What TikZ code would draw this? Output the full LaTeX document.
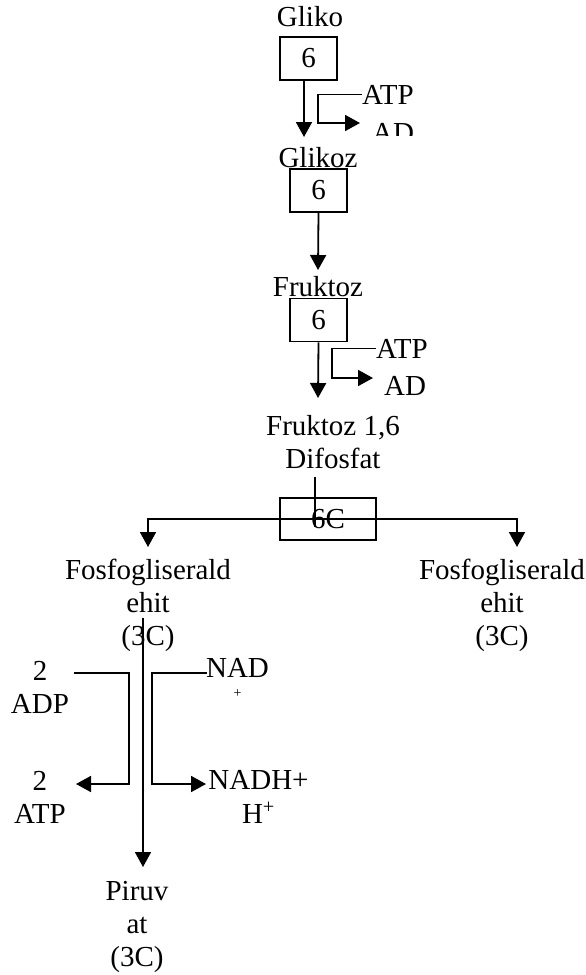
\documentclass[tikz,border=0pt]{standalone}
\usepackage{fontspec}
\setmainfont{Liberation Serif}
\usetikzlibrary{arrows.meta}
\tikzset{
        lbl/.style={inner sep=0pt, align=center, font=\fontsize{29}{33}\selectfont},
        box/.style={lbl, draw, line width=1.8pt, minimum width=57pt, minimum height=43pt},
        garis/.style={line width=1.8pt},
        panah/.style={garis, -{Triangle[length=15pt,width=16pt]}}
}
\begin{document}
\begin{tikzpicture}[x=1pt,y=-1pt]
        \useasboundingbox (0,0) rectangle (586,975);

        % glukosa -> glukosa 6-fosfat
        \node[lbl, anchor=base] (GLIKO) at (310,26) {Gliko};
        \node[box] (B1) at (308.5,58.5) {6};
        \coordinate (A1) at (304,137);
        \draw[panah] (B1.south -| A1) -- (A1);

        \node[lbl, anchor=base west] (ATP1) at (362,104) {ATP};
        \coordinate (K1) at (318,110);
        \coordinate (T1) at (360,123);
        \draw[panah] (ATP1.west) -| (K1) |- (T1);
        \begin{scope}
                \clip (365,110) rectangle (440,135);
                \node[lbl, anchor=base west] (AD1) at (372,142) {AD};
        \end{scope}

        % glukosa 6-fosfat -> fruktosa 6-fosfat
        \node[lbl, anchor=base] (GLIKOZ) at (318,167) {Glikoz};
        \node[box] (B2) at (318.5,190.5) {6};
        \coordinate (A2) at (318,270);
        \draw[panah] (B2.south) -- (A2);

        % fruktosa 6-fosfat -> fruktosa 1,6 difosfat
        \node[lbl, anchor=base] (FRUK) at (318,296) {Fruktoz};
        \node[box] (B3) at (318.5,320) {6};
        \coordinate (A3) at (318,398);
        \draw[panah] (B3.south) -- (A3);

        \node[lbl, anchor=base west] (ATP2) at (376,358) {ATP};
        \coordinate (K2) at (332,364);
        \coordinate (T2) at (373,378);
        \draw[panah] (ATP2.west) -| (K2) |- (T2);
        \node[lbl, anchor=base west] (AD2) at (384,395) {AD};

        % pemecahan 6C menjadi dua 3C
        \node[lbl, anchor=base] (F16) at (333,468) {Fruktoz 1,6\\Difosfat};
        \coordinate (L1) at (315,477);
        \coordinate (L2) at (315,527);
        \draw[garis] (L1) -- (L2);
        \node[box, minimum width=96pt, minimum height=42pt] (B4) at (328,519) {6C};
        \coordinate (SL) at (148,547);
        \coordinate (SR) at (517,547);
        \draw[panah] (B4.center) -| (SL);
        \draw[panah] (B4.center) -| (SR);

        \node[lbl, anchor=base] (FOS1) at (148,645) {Fosfogliserald\\ehit\\(3C)};
        \node[lbl, anchor=base] (FOS2) at (502,645) {Fosfogliserald\\ehit\\(3C)};

        % fosfogliseraldehit -> piruvat
        \coordinate (P0) at (143,618);
        \coordinate (P1) at (143,867);
        \draw[panah] (P0) -- (P1);
        \node[lbl, anchor=base] (PIR) at (137,966) {Piruv\\at\\(3C)};

        \node[lbl, anchor=base] (ADP) at (40,713) {2\\ADP};
        \node[lbl, anchor=base] (ATP3) at (40,823) {2\\ATP};
        \coordinate (Q1) at (74,673);
        \coordinate (Q2) at (129,730);
        \coordinate (Q3) at (76,784);
        \draw[panah] (Q1) -| (Q2) |- (Q3);

        \node[lbl, anchor=base] (NAD) at (237.5,697) {NAD\\[-13pt]{\fontsize{14}{14}\selectfont +}};
        \node[lbl, anchor=base] (NADH) at (258.5,823) {NADH+\\[1pt]H\textsuperscript{+}};
        \coordinate (R1) at (207,673);
        \coordinate (R2) at (152,730);
        \coordinate (R3) at (206,784);
        \draw[panah] (R1) -| (R2) |- (R3);
\end{tikzpicture}
\end{document}
